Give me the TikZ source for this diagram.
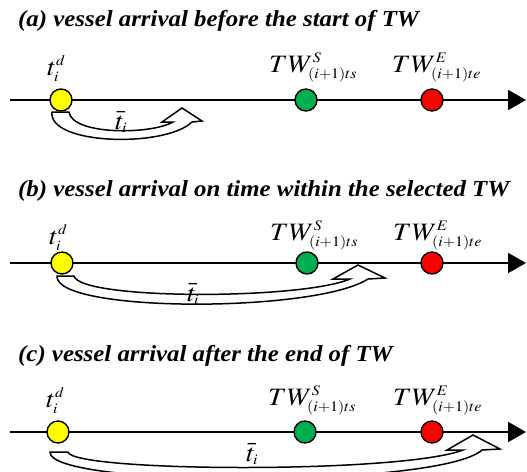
\documentclass[tikz,border=0pt]{standalone}
\usepackage{mathptmx}
\usepackage[no-math]{fontspec}
\setmainfont{Liberation Serif}
\usepackage{graphicx}
\usetikzlibrary{arrows.meta}
\DeclareMathSizes{25}{25}{14.5}{11}
\newcommand\hstretch[1]{\scalebox{1.1}[1]{#1}}
\newcommand\tstretch[1]{\scalebox{1.08}[1]{#1}}
\definecolor{dotyellow}{RGB}{255,255,0}
\definecolor{dotgreen}{RGB}{0,176,80}
\definecolor{dotred}{RGB}{255,0,0}
\tikzset{
  axis/.style={line width=1.8pt,-{Triangle[length=18pt,width=20pt]}},
  dot/.style={circle,draw=black,line width=1.4pt,minimum size=22pt,inner sep=0pt},
  heading/.style={anchor=base west,inner sep=0pt,font=\fontsize{23}{27}\selectfont\bfseries\itshape},
  mlabel/.style={anchor=base west,inner sep=0pt,font=\fontsize{25}{29}\selectfont},
  band/.style={draw=black,fill=white,line width=1.5pt,line join=miter}
}
\begin{document}
\begin{tikzpicture}[x=1pt,y=-1pt]
\useasboundingbox (0,0) rectangle (527,471);
\clip (0,0) rectangle (527,471);

% ---------- (a) ----------
\node[heading] (ha) at (18,27) {\tstretch{(a) vessel arrival before the start of TW}};
\coordinate (a0) at (10,100);
\coordinate (a1) at (526,100);
\draw[axis] (a0) -- (a1);
\draw[band] (52,112) -- (69,112)
  .. controls (72,135) and (150,135) .. (173,122)
  -- (162,122) -- (182,108) -- (202,121) -- (192,122)
  .. controls (165,148) and (48,145) .. (52,112) -- cycle;
\node[dot,fill=dotyellow] (ya) at (61,100) {};
\node[dot,fill=dotgreen] (ga) at (306,100) {};
\node[dot,fill=dotred] (ra) at (432,100) {};
\node[mlabel] (tda) at (47,75) {\hstretch{$t_i^d$}};
\node[mlabel] (tsa) at (269,72) {\hstretch{$TW^S_{(i+1)ts}$}};
\node[mlabel] (tea) at (392,72) {\hstretch{$TW^E_{(i+1)te}$}};
\node[mlabel] (tba) at (115,129) {\hstretch{$\bar{t}_i$}};

% ---------- (b) ----------
\node[heading] (hb) at (18,196) {\tstretch{(b) vessel arrival on time within the selected TW}};
\coordinate (b0) at (10,263);
\coordinate (b1) at (526,263);
\draw[axis] (b0) -- (b1);
\draw[band] (57,276) -- (74,276)
  .. controls (80,300) and (300,300) .. (350,279)
  -- (333,279) -- (358,265) -- (385,278) -- (368,279)
  .. controls (315,313) and (55,313) .. (57,276) -- cycle;
\node[dot,fill=dotyellow] (yb) at (62,263) {};
\node[dot,fill=dotgreen] (gb) at (307,263) {};
\node[dot,fill=dotred] (rb) at (432,263) {};
\node[mlabel] (tdb) at (49,244) {\hstretch{$t_i^d$}};
\node[mlabel] (tsb) at (270,240) {\hstretch{$TW^S_{(i+1)ts}$}};
\node[mlabel] (teb) at (393,240) {\hstretch{$TW^E_{(i+1)te}$}};
\node[mlabel] (tbb) at (187,301) {\hstretch{$\bar{t}_i$}};

% ---------- (c) ----------
\node[heading] (hc) at (18,361) {\tstretch{(c) vessel arrival after the end of TW}};
\coordinate (c0) at (10,432);
\coordinate (c1) at (526,432);
\draw[axis] (c0) -- (c1);
\draw[band] (50,452) -- (68,452)
  .. controls (72,472) and (400,474) .. (463,450)
  -- (447,450) -- (473,435) -- (500,449) -- (482,450)
  .. controls (440,488) and (48,488) .. (50,452) -- cycle;
\node[dot,fill=dotyellow] (yc) at (58,432) {};
\node[dot,fill=dotgreen] (gc) at (305,432) {};
\node[dot,fill=dotred] (rc) at (432,432) {};
\node[mlabel] (tdc) at (46,407) {\hstretch{$t_i^d$}};
\node[mlabel] (tsc) at (268,405) {\hstretch{$TW^S_{(i+1)ts}$}};
\node[mlabel] (tec) at (393,405) {\hstretch{$TW^E_{(i+1)te}$}};
\node[mlabel] (tbc) at (246,461) {\hstretch{$\bar{t}_i$}};
\end{tikzpicture}
\end{document}
